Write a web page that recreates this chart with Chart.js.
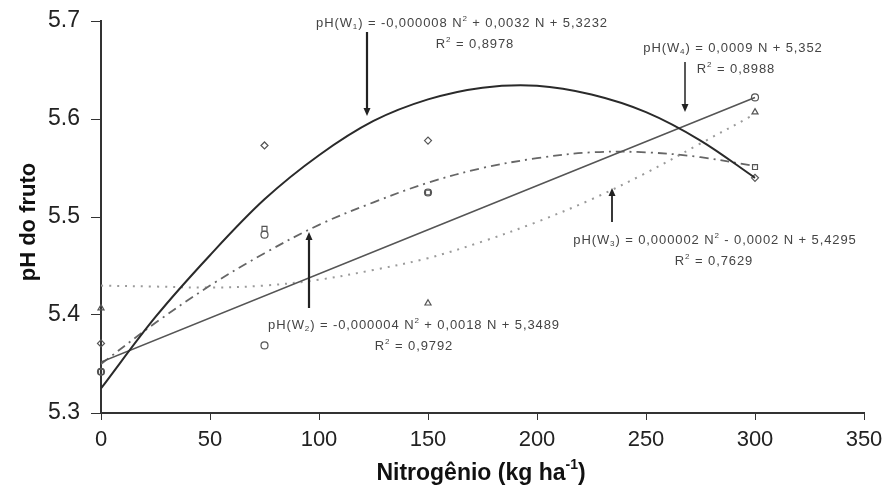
<!DOCTYPE html>
<html>
<head>
<meta charset="utf-8">
<script src="https://cdn.jsdelivr.net/npm/chart.js@4"></script>
<style>
  html, body { margin: 0; padding: 0; background: #fff; }
  canvas { display: block; }
</style>
</head>
<body>
<canvas id="ph-chart" width="883" height="501"></canvas>
<script>
// Doses de N (kg/ha) onde foram medidos os pontos
const doses = [0, 75, 150, 300];

// pH observado por tratamento
const w1Obs = [5.371, 5.573, 5.578, 5.540];   // losangos
const w2Obs = [5.342, 5.488, 5.525, 5.551];   // quadrados
const w3Obs = [5.407, 5.369, 5.412, 5.607];   // triangulos
const w4Obs = [5.342, 5.482, 5.525, 5.622];   // circulos

// Linhas de tendencia
const fitN = [0, 25, 50, 75, 100, 125, 150, 175, 200, 225, 250, 275, 300];
const w1Fit = [5.325, 5.398, 5.461, 5.518, 5.563, 5.598, 5.620, 5.632, 5.634, 5.625, 5.607, 5.578, 5.540];
const w2Fit = [5.350, 5.392, 5.430, 5.463, 5.492, 5.515, 5.535, 5.550, 5.560, 5.566, 5.566, 5.561, 5.552];
const w3Fit = [5.430, 5.429, 5.428, 5.430, 5.436, 5.446, 5.458, 5.475, 5.495, 5.518, 5.545, 5.575, 5.605];
const w4LineN = [0, 300];
const w4Fit = [5.352, 5.622];

// Eixos
const xTicks = [0, 50, 100, 150, 200, 250, 300, 350];
const yTicks = [5.3, 5.4, 5.5, 5.6, 5.7];

const FONT = '"Liberation Sans", Arial, sans-serif';

function pts(xs, ys) {
  return xs.map((x, i) => ({ x: x, y: ys[i] }));
}

function obsSet(label, ys, style) {
  return {
    type: 'scatter',
    label: label,
    data: pts(doses, ys),
    pointStyle: style,
    pointRadius: 3.5,
    pointBorderWidth: 1.2,
    pointBorderColor: '#555',
    pointBackgroundColor: 'rgba(255,255,255,0)',
    showLine: false,
    clip: false
  };
}

function fitSet(label, xs, ys, color, width, dash) {
  return {
    type: 'line',
    label: label,
    data: pts(xs, ys),
    borderColor: color,
    borderWidth: width,
    borderDash: dash,
    pointRadius: 0,
    fill: false,
    tension: 0.35
  };
}

// texto com sub/sobrescrito: [texto, 'sub'|'sup'|undefined]
function drawRich(ctx, parts, x, y, size, align) {
  ctx.letterSpacing = '0.9px';
  const widths = parts.map(p => {
    ctx.font = (p[1] ? size * 0.62 : size) + 'px ' + FONT;
    return ctx.measureText(p[0]).width;
  });
  const total = widths.reduce((a, b) => a + b, 0);
  let cx = align === 'center' ? x - total / 2 : x;
  ctx.textBaseline = 'alphabetic';
  ctx.textAlign = 'left';
  parts.forEach((p, i) => {
    let dy = 0;
    if (p[1] === 'sub') dy = size * 0.18;
    if (p[1] === 'sup') dy = -size * 0.45;
    ctx.font = (p[1] ? size * 0.62 : size) + 'px ' + FONT;
    ctx.fillText(p[0], cx, y + dy);
    cx += widths[i];
  });
  ctx.letterSpacing = '0px';
}

function arrow(ctx, x, y1, y2, width) {
  const dir = y2 > y1 ? 1 : -1;
  ctx.save();
  ctx.strokeStyle = '#222';
  ctx.fillStyle = '#222';
  ctx.lineWidth = width;
  ctx.beginPath();
  ctx.moveTo(x, y1);
  ctx.lineTo(x, y2 - dir * 6);
  ctx.stroke();
  ctx.beginPath();
  ctx.moveTo(x - 3.5, y2 - dir * 8);
  ctx.lineTo(x + 3.5, y2 - dir * 8);
  ctx.lineTo(x, y2);
  ctx.closePath();
  ctx.fill();
  ctx.restore();
}

const notesPlugin = {
  id: 'notes',
  afterDraw(chart) {
    const ctx = chart.ctx;
    ctx.save();
    ctx.fillStyle = '#444';
    const s = 13;

    drawRich(ctx, [['pH(W'], ['1', 'sub'], [') = -0,000008 N'], ['2', 'sup'], [' + 0,0032 N + 5,3232']], 462, 27, s, 'center');
    drawRich(ctx, [['R'], ['2', 'sup'], [' = 0,8978']], 475, 48, s, 'center');
    arrow(ctx, 367, 32, 116, 2.2);

    drawRich(ctx, [['pH(W'], ['4', 'sub'], [') = 0,0009 N + 5,352']], 733, 52, s, 'center');
    drawRich(ctx, [['R'], ['2', 'sup'], [' = 0,8988']], 736, 73, s, 'center');
    arrow(ctx, 685, 62, 112, 1.5);

    drawRich(ctx, [['pH(W'], ['3', 'sub'], [') = 0,000002 N'], ['2', 'sup'], [' - 0,0002 N + 5,4295']], 715, 244, s, 'center');
    drawRich(ctx, [['R'], ['2', 'sup'], [' = 0,7629']], 714, 265, s, 'center');
    arrow(ctx, 612, 222, 188, 1.8);

    drawRich(ctx, [['pH(W'], ['2', 'sub'], [') = -0,000004 N'], ['2', 'sup'], [' + 0,0018 N + 5,3489']], 414, 329, s, 'center');
    drawRich(ctx, [['R'], ['2', 'sup'], [' = 0,9792']], 414, 350, s, 'center');
    arrow(ctx, 309, 308, 232, 2.2);

    // titulo do eixo x com expoente
    ctx.fillStyle = '#111';
    const big = 'bold 23px ' + FONT;
    const small = 'bold 14px ' + FONT;
    const a = 'Nitrogênio (kg ha';
    ctx.font = big;
    const wa = ctx.measureText(a).width;
    const wc = ctx.measureText(')').width;
    ctx.font = small;
    const wb = ctx.measureText('-1').width;
    let x0 = 481 - (wa + wb + wc) / 2;
    const yb = 480;
    ctx.textAlign = 'left';
    ctx.textBaseline = 'alphabetic';
    ctx.font = big;
    ctx.fillText(a, x0, yb);
    ctx.font = small;
    ctx.fillText('-1', x0 + wa, yb - 11);
    ctx.font = big;
    ctx.fillText(')', x0 + wa + wb, yb);

    // titulo do eixo y
    ctx.save();
    ctx.translate(29, 222);
    ctx.rotate(-Math.PI / 2);
    ctx.textAlign = 'center';
    ctx.textBaseline = 'middle';
    ctx.font = 'bold 22px ' + FONT;
    ctx.fillText('pH do fruto', 0, 0);
    ctx.restore();

    ctx.restore();
  }
};

document.addEventListener('DOMContentLoaded', () => {
  const ctx = document.getElementById('ph-chart').getContext('2d');
  new Chart(ctx, {
    data: {
      datasets: [
        fitSet('Tendência W1', fitN, w1Fit, '#2a2a2a', 2, []),
        fitSet('Tendência W4', w4LineN, w4Fit, '#555', 1.6, []),
        fitSet('Tendência W2', fitN, w2Fit, '#666', 1.8, [9, 5, 2, 5]),
        fitSet('Tendência W3', fitN, w3Fit, '#9a9a9a', 2, [2, 6]),
        obsSet('W1', w1Obs, 'rectRot'),
        obsSet('W2', w2Obs, 'rect'),
        obsSet('W3', w3Obs, ['triangle', 'circle', 'triangle', 'triangle']),
        obsSet('W4', w4Obs, 'circle')
      ]
    },
    options: {
      responsive: false,
      animation: false,
      devicePixelRatio: 1,
      layout: { padding: { top: 21, right: 19, left: 0, bottom: 0 } },
      plugins: {
        legend: { display: false },
        tooltip: { enabled: false }
      },
      scales: {
        x: {
          type: 'linear',
          min: 0,
          max: 350,
          afterBuildTicks: axis => { axis.ticks = xTicks.map(v => ({ value: v })); },
          afterFit: axis => {
            axis.height = 88;
            axis.paddingLeft = 0;
            axis.paddingRight = 0;
          },
          ticks: { font: { family: FONT, size: 22 }, color: '#222', padding: 7, maxRotation: 0 },
          grid: { drawOnChartArea: false, color: '#333', tickLength: 7 },
          border: { color: '#333', width: 2 }
        },
        y: {
          min: 5.3,
          max: 5.7,
          afterBuildTicks: axis => { axis.ticks = yTicks.map(v => ({ value: v })); },
          afterFit: axis => {
            axis.width = 101;
            axis.paddingTop = 0;
            axis.paddingBottom = 0;
          },
          ticks: {
            font: { family: FONT, size: 23 },
            color: '#222',
            padding: 11,
            callback: v => v.toFixed(1)
          },
          grid: { drawOnChartArea: false, color: '#333', tickLength: 10 },
          border: { color: '#333', width: 2 }
        }
      }
    },
    plugins: [notesPlugin]
  });
});
</script>
</body>
</html>
